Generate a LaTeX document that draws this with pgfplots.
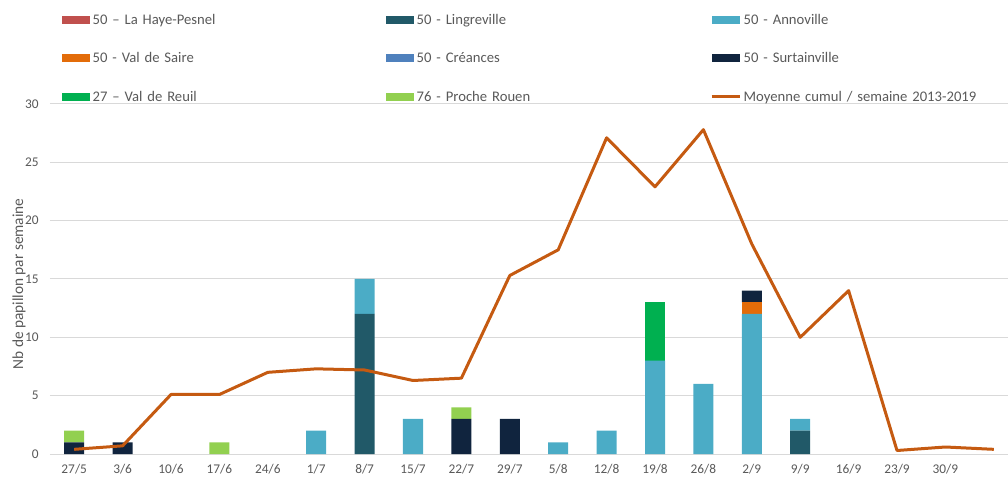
\documentclass[border=0pt]{standalone}
\usepackage{fontspec}
\setmainfont{Carlito}
\usepackage{pgfplots}
\usepackage{pgfplotstable}
\pgfplotsset{compat=1.18}
\definecolor{cHaye}{HTML}{C0504D}
\definecolor{cLing}{HTML}{215968}
\definecolor{cAnno}{HTML}{4BACC6}
\definecolor{cSaire}{HTML}{E36C09}
\definecolor{cCrea}{HTML}{4F81BD}
\definecolor{cSurt}{HTML}{10243E}
\definecolor{cReuil}{HTML}{00B050}
\definecolor{cRouen}{HTML}{92D050}
\definecolor{cLine}{HTML}{C55A11}
\definecolor{textgrey}{HTML}{595959}
\definecolor{gridgrey}{HTML}{D9D9D9}
\pgfplotstableread{
x haye ling anno saire crea surt reuil rouen moy
0  0 0  0  0 0 1 0 1 0.4
1  0 0  0  0 0 1 0 0 0.7
2  0 0  0  0 0 0 0 0 5.1
3  0 0  0  0 0 0 0 1 5.1
4  0 0  0  0 0 0 0 0 7.0
5  0 0  2  0 0 0 0 0 7.3
6  0 12 3  0 0 0 0 0 7.2
7  0 0  3  0 0 0 0 0 6.3
8  0 0  0  0 0 3 0 1 6.5
9  0 0  0  0 0 3 0 0 15.3
10 0 0  1  0 0 0 0 0 17.5
11 0 0  2  0 0 0 0 0 27.1
12 0 0  8  0 0 0 5 0 22.9
13 0 0  6  0 0 0 0 0 27.8
14 0 0  12 1 0 1 0 0 18.0
15 0 2  1  0 0 0 0 0 10.0
16 0 0  0  0 0 0 0 0 14.0
17 0 0  0  0 0 0 0 0 0.3
18 0 0  0  0 0 0 0 0 0.6
19 0 0  0  0 0 0 0 0 0.4
}\data
\pgfplotsset{
  bl/.style={fill=#1, draw=none,
    legend image code/.code={\fill[##1] (0pt,-3pt) rectangle (21pt,3pt);}},
  linelegend/.style={legend image code/.code={\draw[##1] (0pt,0pt) -- (21pt,0pt);}},
  common/.style={
    at={(0pt,0pt)}, anchor=south west, scale only axis,
    width=726pt, height=262.5pt,
    xmin=-0.5, xmax=19.5, ymin=0, ymax=30,
    enlargelimits=false,
  }
}
\begin{document}
\begin{tikzpicture}
\useasboundingbox (-37.5pt,-18.75pt) rectangle (718.5pt,340.5pt);
\begin{axis}[
  common,
  ybar stacked, bar width=15pt,
  xtick={0,...,18},
  xticklabels={27/5,3/6,10/6,17/6,24/6,1/7,8/7,15/7,22/7,29/7,5/8,12/8,19/8,26/8,2/9,9/9,16/9,23/9,30/9},
  ytick={0,5,...,30},
  ymajorgrids, grid style={draw=gridgrey, line width=0.75pt},
  axis line style={draw=none},
  tick style={draw=none},
  ticklabel style={font=\fontsize{10}{12}\selectfont, text=textgrey},
  xticklabel style={yshift=-4.5pt},
  yticklabel style={anchor=east, inner sep=0pt, xshift=-8.25pt},
  /pgf/number format/assume math mode=true,
  ylabel={Nb de papillon par semaine},
  ylabel style={at={(axis description cs:-0.032,0.486)}, anchor=center, font=\fontsize{11.5}{13}\selectfont, text=textgrey},
  legend columns=3,
  legend style={at={(axis description cs:0.0124,1.295)}, anchor=north west,
    draw=none, fill=none, inner sep=0pt, outer sep=0pt,
    font=\fontsize{11}{13}\selectfont, text=textgrey,
    cells={anchor=west},
    nodes={inner sep=0pt, text width=219pt, minimum height=28.875pt, align=left},
    /tikz/every odd column/.append style={column sep=2pt},
    /tikz/every even column/.append style={column sep=1pt}},
]
\addplot[bl=cHaye] table[x=x,y=haye]{\data};
\addlegendentry{50 – La Haye-Pesnel}
\addplot[bl=cLing] table[x=x,y=ling]{\data};
\addlegendentry{50 - Lingreville}
\addplot[bl=cAnno] table[x=x,y=anno]{\data};
\addlegendentry{50 - Annoville}
\addplot[bl=cSaire] table[x=x,y=saire]{\data};
\addlegendentry{50 - Val de Saire}
\addplot[bl=cCrea] table[x=x,y=crea]{\data};
\addlegendentry{50 - Créances}
\addplot[bl=cSurt] table[x=x,y=surt]{\data};
\addlegendentry{50 - Surtainville}
\addplot[bl=cReuil] table[x=x,y=reuil]{\data};
\addlegendentry{27 – Val de Reuil}
\addplot[bl=cRouen] table[x=x,y=rouen]{\data};
\addlegendentry{76 - Proche Rouen}
\addlegendimage{draw=cLine, line width=2.25pt, linelegend}
\addlegendentry{Moyenne cumul / semaine 2013-2019}
\end{axis}
\begin{axis}[common, hide axis]
\addplot[draw=cLine, line width=2.25pt, mark=none, line join=round] table[x=x,y=moy]{\data};
\end{axis}
\end{tikzpicture}
\end{document}
